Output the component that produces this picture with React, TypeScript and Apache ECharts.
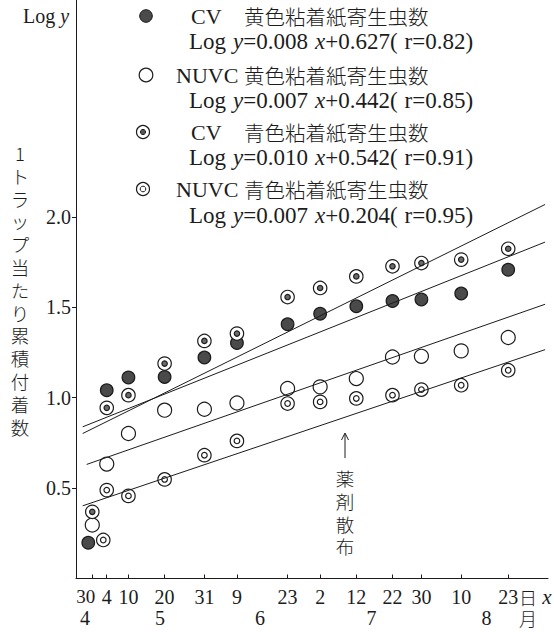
import React, { useEffect, useRef } from 'react';
import * as echarts from 'echarts';

// x = days counted from 1 April (30 April = 29)
const dayX = [29, 33, 39, 49, 60, 69, 83, 92, 102, 112, 120, 131, 144];
const dayLabels = ['30', '4', '10', '20', '31', '9', '23', '2', '12', '22', '30', '10', '23'];
const monthLabels = ['4', '5', '6', '7', '8'];
const monthLabelX = [27.0, 47.7, 75.4, 106.2, 138.0];
const yTicks = [0.5, 1.0, 1.5, 2.0];

// Log y values
const cvYellow = [0.198, 1.041, 1.112, 1.115, 1.222, 1.303, 1.406, 1.465, 1.506, 1.535, 1.543, 1.576, 1.708];
const nuvcYellow = [0.296, 0.633, 0.802, 0.931, 0.936, 0.971, 1.051, 1.06, 1.106, 1.225, 1.229, 1.259, 1.333];
const cvBlue = [0.369, 0.944, 1.014, 1.189, 1.314, 1.355, 1.557, 1.607, 1.671, 1.727, 1.745, 1.764, 1.824];
const nuvcBlue = [0.213, 0.489, 0.457, 0.548, 0.682, 0.761, 0.968, 0.977, 0.996, 1.014, 1.045, 1.069, 1.152];

// regression line end points [x, Log y]
const cvYellowLine = [[26.35, 0.839], [154.2, 1.861]];
const nuvcYellowLine = [[27.45, 0.631], [154.2, 1.517]];
const cvBlueLine = [[26.35, 0.802], [154.2, 2.069]];
const nuvcBlueLine = [[26.35, 0.402], [154.2, 1.266]];

const legendPrefix = ['CV', 'NUVC', 'CV', 'NUVC'];
const legendNames = ['黄色粘着紙寄生虫数', '黄色粘着紙寄生虫数', '青色粘着紙寄生虫数', '青色粘着紙寄生虫数'];
const slopes = ['0.008', '0.007', '0.010', '0.007'];
const intercepts = ['0.627', '0.442', '0.542', '0.204'];
const rValues = ['0.82', '0.85', '0.91', '0.95'];

const yTitle = '1トラップ当たり累積付着数';
const sprayNote = '薬剤散布';

const INK = '#1c1c1c';
const SERIF = "'Liberation Serif','DejaVu Serif','Noto Sans CJK JP',serif";
const CJK = "'Noto Sans CJK JP','Noto Sans CJK SC',sans-serif";

export default function App() {
  const ref = useRef<HTMLDivElement>(null);

  useEffect(() => {
    if (!ref.current) return;
    const chart = echarts.init(ref.current, undefined, { renderer: 'svg' });

    const pts = (vals: number[], firstShift = 0) =>
      vals.map((v, i) =>
        i === 0 && firstShift
          ? { value: [dayX[i], v], symbolOffset: [firstShift, 0] }
          : { value: [dayX[i], v] }
      );

    const ring = (name: string, data: any[], size: number, fill: string, z: number) => ({
      name,
      type: 'scatter',
      data,
      symbol: 'circle',
      symbolSize: size,
      z,
      itemStyle: { color: fill, borderColor: INK, borderWidth: 1.2, opacity: 1 },
      emphasis: { disabled: true },
    });

    const line = (name: string, data: number[][]) => ({
      name,
      type: 'line',
      data,
      symbol: 'none',
      z: 5,
      lineStyle: { color: INK, width: 1 },
      emphasis: { disabled: true },
    });

    const legendX = 146;
    const titleY = [16, 75, 132, 189];
    const eqY = [41, 100, 157, 215];
    const richEq = {
      n: { fontFamily: SERIF, fontSize: 23, fill: INK, color: INK, lineHeight: 20 },
      i: { fontFamily: SERIF, fontSize: 23, fontStyle: 'italic', fill: INK, color: INK, lineHeight: 20 },
      sp: { width: 7, fontSize: 23, lineHeight: 20 },
    };

    const legendGraphics: any[] = [];
    for (let k = 0; k < 4; k++) {
      const cy = titleY[k];
      if (k === 0) {
        legendGraphics.push({ type: 'circle', shape: { cx: legendX, cy, r: 6.3 }, style: { fill: '#4a4a4a', stroke: INK, lineWidth: 1 } });
      } else if (k === 1) {
        legendGraphics.push({ type: 'circle', shape: { cx: legendX, cy, r: 6.8 }, style: { fill: '#fff', stroke: INK, lineWidth: 1.2 } });
      } else {
        legendGraphics.push({ type: 'circle', shape: { cx: legendX - 3, cy, r: 6.5 }, style: { fill: '#fff', stroke: INK, lineWidth: 1.2 } });
        legendGraphics.push({ type: 'circle', shape: { cx: legendX - 3, cy, r: k === 2 ? 2.6 : 2.8 }, style: { fill: k === 2 ? '#555' : '#fff', stroke: INK, lineWidth: 1 } });
      }
      legendGraphics.push({
        type: 'text', x: legendPrefix[k] === 'CV' ? 191 : 176, y: cy,
        style: { text: legendPrefix[k], font: `22px ${SERIF}`, fill: INK, verticalAlign: 'middle', align: 'left', lineHeight: 20 },
      });
      legendGraphics.push({
        type: 'text', x: 244, y: cy,
        style: { text: legendNames[k], font: `300 20.5px ${CJK}`, fill: INK, verticalAlign: 'middle', align: 'left', lineHeight: 20 },
      });
      legendGraphics.push({
        type: 'text', x: 189, y: eqY[k],
        style: {
          text: `{n|Log}{sp| }{i|y}{n|=${slopes[k]}}{sp| }{i|x}{n|+${intercepts[k]}(}{sp| }{n|r=${rValues[k]})}`,
          verticalAlign: 'middle', align: 'left', lineHeight: 20,
          rich: richEq,
        },
      });
    }

    const yTitleGraphics = Array.from(yTitle).map((ch, i) => ({
      type: 'text', x: 20, y: 153 + i * 22.8,
      style: { text: ch, font: `300 18.5px ${CJK}`, fill: INK, align: 'center', verticalAlign: 'middle', lineHeight: 21 },
    }));
    const sprayGraphics = Array.from(sprayNote).map((ch, i) => ({
      type: 'text', x: 345, y: 478 + i * 22.8,
      style: { text: ch, font: `300 18.5px ${CJK}`, fill: INK, align: 'center', verticalAlign: 'middle', lineHeight: 21 },
    }));

    const option: any = {
      animation: false,
      backgroundColor: '#ffffff',
      grid: { left: 76, right: 6, top: 0, bottom: 53.5, containLabel: false, outerBoundsMode: 'none' },
      xAxis: [
        {
          type: 'value', min: 24.5, max: 155, position: 'bottom',
          axisLine: { show: true, onZero: false, lineStyle: { color: INK, width: 1 } },
          axisTick: { show: true, inside: true, length: 4, customValues: dayX, lineStyle: { color: INK, width: 1 } },
          axisLabel: {
            show: true, customValues: dayX, margin: 8, hideOverlap: false,
            showMinLabel: true, showMaxLabel: true,
            formatter: (v: number) => {
              const i = dayX.indexOf(v);
              if (i < 0) return '';
              return i === 0 ? `{s|${dayLabels[i]}}` : `{n|${dayLabels[i]}}`;
            },
            rich: {
              n: { fontFamily: SERIF, fontSize: 20, color: INK },
              s: { fontFamily: SERIF, fontSize: 19, color: INK, padding: [0, 13, 0, 0] },
            },
          },
          splitLine: { show: false },
        },
        {
          type: 'value', min: 24.5, max: 155, position: 'bottom', offset: 21,
          axisLine: { show: false }, axisTick: { show: false },
          axisLabel: {
            show: true, customValues: monthLabelX, margin: 8, hideOverlap: false,
            showMinLabel: true, showMaxLabel: true,
            formatter: (v: number) => monthLabels[monthLabelX.indexOf(v)] ?? '',
            fontFamily: SERIF, fontSize: 20, color: INK,
          },
          splitLine: { show: false },
        },
      ],
      yAxis: {
        type: 'value', min: 0, max: 3.2,
        axisLine: { show: true, onZero: false, lineStyle: { color: INK, width: 1 } },
        axisTick: { show: true, inside: false, length: 4, customValues: yTicks, lineStyle: { color: INK, width: 1 } },
        axisLabel: {
          show: true, customValues: yTicks, margin: 5,
          formatter: (v: number) => v.toFixed(1),
          fontFamily: SERIF, fontSize: 20, color: INK,
        },
        splitLine: { show: false },
      },
      series: [
        ring('CV 黄色粘着紙寄生虫数', pts(cvYellow, -4), 12.6, '#4a4a4a', 3),
        ring('NUVC 黄色粘着紙寄生虫数', pts(nuvcYellow), 14, '#ffffff', 3),
        ring('CV 青色粘着紙寄生虫数', pts(cvBlue), 13.4, '#ffffff', 3),
        ring('CV 青色粘着紙寄生虫数 center', pts(cvBlue), 5.4, '#6a6a6a', 4),
        ring('NUVC 青色粘着紙寄生虫数', pts(nuvcBlue, 11), 13.4, '#ffffff', 3),
        ring('NUVC 青色粘着紙寄生虫数 center', pts(nuvcBlue, 11), 5.6, '#ffffff', 4),
        line('CV 黄色 回帰', cvYellowLine),
        line('NUVC 黄色 回帰', nuvcYellowLine),
        line('CV 青色 回帰', cvBlueLine),
        line('NUVC 青色 回帰', nuvcBlueLine),
      ],
      graphic: [
        {
          type: 'text', x: 23, y: 16,
          style: {
            text: '{n|Log}{i| y}', verticalAlign: 'middle', align: 'left', lineHeight: 20,
            rich: {
              n: { fontFamily: SERIF, fontSize: 20, fill: INK, color: INK, lineHeight: 20 },
              i: { fontFamily: SERIF, fontSize: 20, fontStyle: 'italic', fill: INK, color: INK, lineHeight: 20 },
            },
          },
        },
        ...yTitleGraphics,
        ...legendGraphics,
        { type: 'line', shape: { x1: 345, y1: 434, x2: 345, y2: 458 }, style: { stroke: INK, lineWidth: 1 } },
        { type: 'polyline', shape: { points: [[341.5, 440], [345, 433], [348.5, 440]] }, style: { stroke: INK, lineWidth: 1, fill: 'none' } },
        ...sprayGraphics,
        { type: 'text', x: 528, y: 597, style: { text: '日', font: `300 18px ${CJK}`, fill: INK, align: 'center', verticalAlign: 'middle', lineHeight: 19 } },
        { type: 'text', x: 547, y: 597, style: { text: 'x', font: `italic 21px ${SERIF}`, fill: INK, align: 'center', verticalAlign: 'middle', lineHeight: 19 } },
        { type: 'text', x: 528, y: 618, style: { text: '月', font: `300 18px ${CJK}`, fill: INK, align: 'center', verticalAlign: 'middle', lineHeight: 19 } },
      ],
    };

    chart.setOption(option);
    return () => chart.dispose();
  }, []);

  return (
    <div
      ref={ref}
      style={{ position: 'absolute', left: 0, top: 0, width: 554, height: 632, background: '#fff' }}
    />
  );
}
